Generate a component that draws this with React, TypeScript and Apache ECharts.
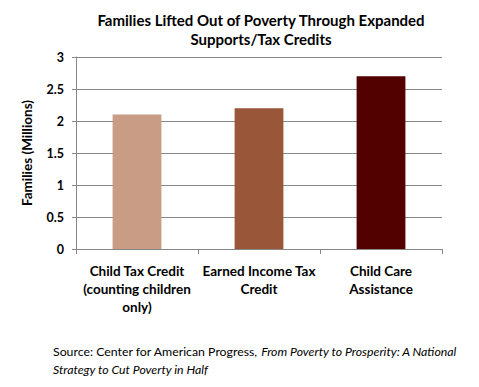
import React, { useEffect, useRef } from "react";
import * as echarts from "echarts";

const categories = [
  "Child Tax Credit\n(counting children\nonly)",
  "Earned Income Tax\nCredit",
  "Child Care\nAssistance",
];
const values = [2.1, 2.2, 2.7];
const barColors = ["#C99C86", "#9A5639", "#520000"];
const titleText = "Families Lifted Out of Poverty Through Expanded\nSupports/Tax Credits";
const yAxisName = "Families (Millions)";

const FONT = "Lato, 'Open Sans', sans-serif";

export default function App() {
  const ref = useRef<HTMLDivElement>(null);
  useEffect(() => {
    if (!ref.current) return;
    const chart = echarts.init(ref.current, undefined, { renderer: "svg" });
    chart.setOption({
      animation: false,
      backgroundColor: "#ffffff",
      title: {
        text: titleText,
        left: 256,
        textAlign: "center",
        top: 5,
        textStyle: {
          fontFamily: FONT,
          fontWeight: "bold",
          fontSize: 15,
          lineHeight: 19,
          color: "#000",
        },
      },
      grid: { left: 76, right: 37, top: 57, bottom: 138 },
      xAxis: {
        type: "category",
        data: categories,
        axisLine: { lineStyle: { color: "#868686" } },
        axisTick: { show: true, length: 5, lineStyle: { color: "#868686" } },
        axisLabel: {
          fontFamily: FONT,
          fontWeight: "bold",
          fontSize: 13.5,
          lineHeight: 18,
          color: "#000",
          margin: 13,
          interval: 0,
        },
      },
      yAxis: {
        type: "value",
        min: 0,
        max: 3,
        interval: 0.5,
        name: yAxisName,
        nameLocation: "middle",
        nameGap: 42,
        nameTextStyle: {
          fontFamily: FONT,
          fontWeight: "bold",
          fontSize: 13.5,
          color: "#000",
        },
        axisLine: { show: true, lineStyle: { color: "#868686" } },
        axisTick: { show: true, length: 4, lineStyle: { color: "#868686" } },
        axisLabel: {
          fontFamily: FONT,
          fontWeight: "bold",
          fontSize: 12.5,
          color: "#000",
          margin: 12,
        },
        splitLine: { show: true, lineStyle: { color: "#868686" } },
      },
      series: [
        {
          type: "bar",
          data: values.map((v, i) => ({ value: v, itemStyle: { color: barColors[i] } })),
          barWidth: "40%",
        },
      ],
      graphic: [
        {
          type: "text",
          left: 53,
          top: 345,
          style: {
            text: "{n|Source: Center for American Progress, }{i|From Poverty to Prosperity: A National}\n{i|Strategy to Cut Poverty in Half}",
            rich: {
              n: { fontFamily: FONT, fontSize: 12.3, fill: "#000", lineHeight: 18 },
              i: { fontFamily: FONT, fontSize: 12.3, fontStyle: "italic", fill: "#000", lineHeight: 18 },
            },
          },
        },
      ],
    });
    return () => chart.dispose();
  }, []);
  return <div ref={ref} style={{ width: 479, height: 387, position: "absolute", left: 0, top: 0 }} />;
}
